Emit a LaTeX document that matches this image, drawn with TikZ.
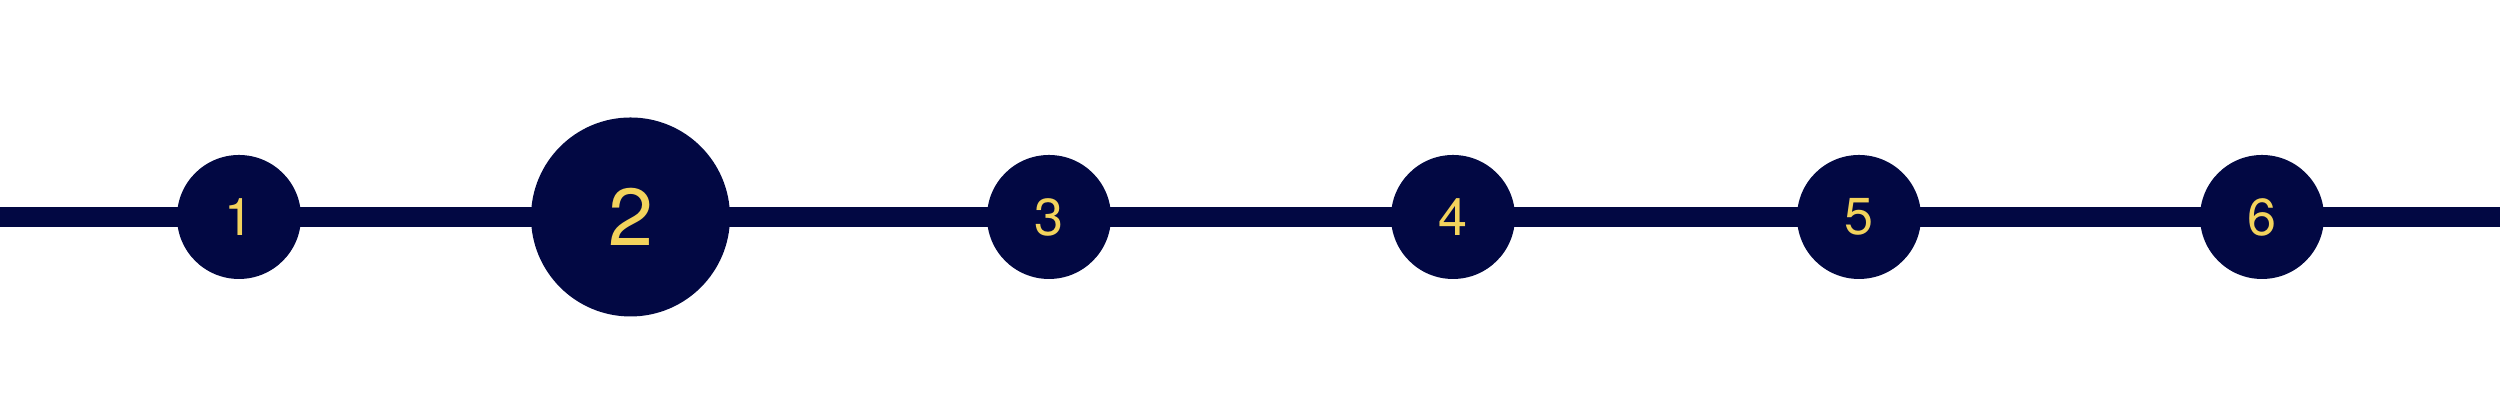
\documentclass[tikz,border=0pt]{standalone}
\usepackage{fontspec}
\setmainfont{TeX Gyre Heros}
\usetikzlibrary{backgrounds}
\definecolor{navy}{HTML}{020843}
\definecolor{gold}{HTML}{F3D35C}
\tikzset{
  stepdot/.style={circle, fill=navy, inner sep=0pt, minimum size=1.24cm, text=gold,
    font=\fontsize{14.8}{16}\selectfont},
  bigdot/.style={stepdot, minimum size=1.99cm, font=\fontsize{23}{26}\selectfont},
  track/.style={draw=navy, line width=0.2cm}
}
\begin{document}
\begin{tikzpicture}
\useasboundingbox (0,0) rectangle (25,4.2);
\coordinate (L) at (0,2.03);
\coordinate (R) at (25,2.03);
\node[stepdot] (c1) at (2.39,2.03) {1};
\node[bigdot]  (c2) at (6.305,2.03) {2};
\node[stepdot] (c3) at (10.49,2.03) {3};
\node[stepdot] (c4) at (14.53,2.03) {4};
\node[stepdot] (c5) at (18.59,2.03) {5};
\node[stepdot] (c6) at (22.62,2.03) {6};
\begin{scope}[on background layer]
\draw[track] (L) -- (c1.center) -- (c2.center) -- (c3.center) -- (c4.center)
  -- (c5.center) -- (c6.center) -- (R);
\end{scope}
\end{tikzpicture}
\end{document}
